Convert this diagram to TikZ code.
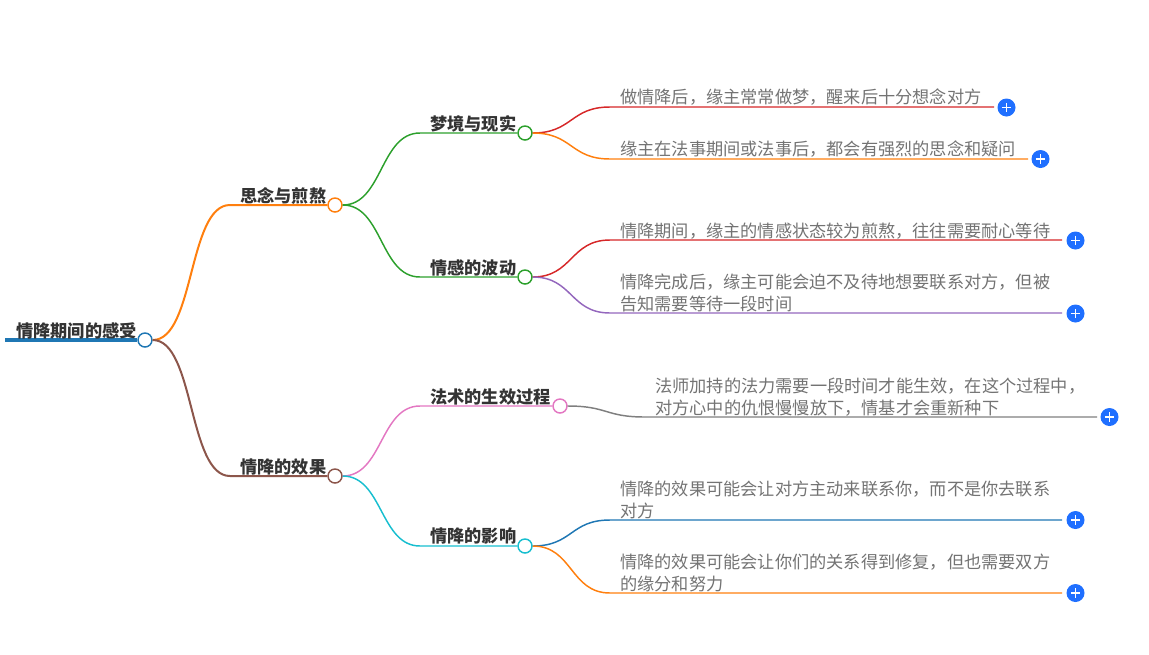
\documentclass[tikz,border=0pt]{standalone}
\usepackage{fontspec}
\setmainfont{Noto Sans CJK SC}
\definecolor{cBlue}{HTML}{1F77B4}
\definecolor{cOrange}{HTML}{FF7F0E}
\definecolor{cGreen}{HTML}{2CA02C}
\definecolor{cRed}{HTML}{D62728}
\definecolor{cPurple}{HTML}{9467BD}
\definecolor{cBrown}{HTML}{8C564B}
\definecolor{cPink}{HTML}{E377C2}
\definecolor{cGrey}{HTML}{7F7F7F}
\definecolor{cCyan}{HTML}{17BECF}
\definecolor{cBtn}{HTML}{1F6FFF}
\tikzset{
	knot/.style={circle, draw=#1, fill=white, line width=1.1pt, minimum size=10.5pt, inner sep=0pt},
	topic/.style={anchor=base west, inner sep=0pt, text=black!80, font=\fontsize{12.9}{16.5}\selectfont\bfseries},
	leaf/.style={anchor=south west, inner sep=0pt, align=left, text=black!55, font=\fontsize{12.9}{16.5}\selectfont},
	branch/.style={line width=1.5pt, color=#1},
	twig/.style={line width=1.1pt, color=#1},
	plusbtn/.style={circle, fill=cBtn, minimum size=13.5pt, inner sep=0pt,
		path picture={\draw[white, line width=0.9pt] (path picture bounding box.center) ++(-3.5pt,0) -- ++(7pt,0) ++(-3.5pt,-3.5pt) -- ++(0,7pt);}},
}
\begin{document}
\begin{tikzpicture}[x=0.75pt, y=-0.75pt]
	\useasboundingbox (0,0) rectangle (1149,654);

	%%%%% knots %%%%%
	\node[knot=cBlue] (root) at (145, 340) {};
	\node[knot=cOrange] (sinian) at (335, 205) {};
	\node[knot=cBrown] (xiaoguo) at (335, 476) {};
	\node[knot=cGreen] (mengjing) at (525, 133) {};
	\node[knot=cGreen] (qinggan) at (525, 277) {};
	\node[knot=cPink] (fashu) at (560, 406) {};
	\node[knot=cCyan] (yingxiang) at (525, 546) {};

	%%%%% buttons %%%%%
	\node[plusbtn] (btnA) at (1006.5, 107.5) {};
	\node[plusbtn] (btnB) at (1040.5, 159) {};
	\node[plusbtn] (btnC) at (1075.5, 240.5) {};
	\node[plusbtn] (btnD) at (1075.5, 313.5) {};
	\node[plusbtn] (btnE) at (1109.5, 417) {};
	\node[plusbtn] (btnF) at (1075.5, 520) {};
	\node[plusbtn] (btnG) at (1075.5, 593) {};

	%%%%% bends %%%%%
	\coordinate (start) at (5, 340);
	\coordinate (bendSinian) at (230, 205);
	\coordinate (bendXiaoguo) at (230, 476);
	\coordinate (bendMengjing) at (420, 133);
	\coordinate (bendQinggan) at (420, 277);
	\coordinate (bendFashu) at (420, 406);
	\coordinate (bendYingxiang) at (420, 546);
	\coordinate (bendA) at (610, 107);
	\coordinate (bendB) at (610, 159);
	\coordinate (bendC) at (610, 240);
	\coordinate (bendD) at (610, 313);
	\coordinate (bendE) at (645, 417);
	\coordinate (bendF) at (610, 520);
	\coordinate (bendG) at (610, 593);
	\coordinate (endA) at (994, 107);
	\coordinate (endB) at (1028, 159);
	\coordinate (endC) at (1062, 240);
	\coordinate (endD) at (1062, 313);
	\coordinate (endE) at (1097, 417);
	\coordinate (endF) at (1062, 520);
	\coordinate (endG) at (1062, 593);

	%%%%% connectors %%%%%
	\draw[line width=3pt, color=cBlue] (start) -- (root.west);

	\draw[branch=cOrange] (root.east) .. controls +(42,0) and +(-42,0) .. (bendSinian) -- (sinian.west);
	\draw[branch=cBrown] (root.east) .. controls +(42,0) and +(-42,0) .. (bendXiaoguo) -- (xiaoguo.west);

	\draw[twig=cGreen] (sinian.east) .. controls +(40,0) and +(-40,0) .. (bendMengjing) -- (mengjing.west);
	\draw[twig=cGreen] (sinian.east) .. controls +(40,0) and +(-40,0) .. (bendQinggan) -- (qinggan.west);
	\draw[twig=cPink] (xiaoguo.east) .. controls +(40,0) and +(-40,0) .. (bendFashu) -- (fashu.west);
	\draw[twig=cCyan] (xiaoguo.east) .. controls +(40,0) and +(-40,0) .. (bendYingxiang) -- (yingxiang.west);

	\draw[twig=cRed] (mengjing.east) .. controls +(40,0) and +(-40,0) .. (bendA) -- (endA);
	\draw[twig=cOrange] (mengjing.east) .. controls +(40,0) and +(-40,0) .. (bendB) -- (endB);
	\draw[twig=cRed] (qinggan.east) .. controls +(40,0) and +(-40,0) .. (bendC) -- (endC);
	\draw[twig=cPurple] (qinggan.east) .. controls +(40,0) and +(-40,0) .. (bendD) -- (endD);
	\draw[twig=cGrey] (fashu.east) .. controls +(40,0) and +(-40,0) .. (bendE) -- (endE);
	\draw[twig=cBlue] (yingxiang.east) .. controls +(40,0) and +(-40,0) .. (bendF) -- (endF);
	\draw[twig=cOrange] (yingxiang.east) .. controls +(40,0) and +(-40,0) .. (bendG) -- (endG);

	%%%%% labels %%%%%
	\node[topic] (tRoot) at (16, 337) {情降期间的感受};
	\node[topic] (tSinian) at (240, 202) {思念与煎熬};
	\node[topic] (tXiaoguo) at (240, 473) {情降的效果};
	\node[topic] (tMengjing) at (430, 130) {梦境与现实};
	\node[topic] (tQinggan) at (430, 274) {情感的波动};
	\node[topic] (tFashu) at (430, 403) {法术的生效过程};
	\node[topic] (tYingxiang) at (430, 542) {情降的影响};

	\node[leaf] (tA) at (620, 106) {做情降后，缘主常常做梦，醒来后十分想念对方};
	\node[leaf] (tB) at (620, 158) {缘主在法事期间或法事后，都会有强烈的思念和疑问};
	\node[leaf] (tC) at (620, 239.5) {情降期间，缘主的情感状态较为煎熬，往往需要耐心等待};
	\node[leaf] (tD) at (620, 312) {情降完成后，缘主可能会迫不及待地想要联系对方，但被\\告知需要等待一段时间};
	\node[leaf] (tE) at (655, 416.5) {法师加持的法力需要一段时间才能生效，在这个过程中，\\对方心中的仇恨慢慢放下，情基才会重新种下};
	\node[leaf] (tF) at (620, 519.5) {情降的效果可能会让对方主动来联系你，而不是你去联系\\对方};
	\node[leaf] (tG) at (620, 592.5) {情降的效果可能会让你们的关系得到修复，但也需要双方\\的缘分和努力};
\end{tikzpicture}
\end{document}
